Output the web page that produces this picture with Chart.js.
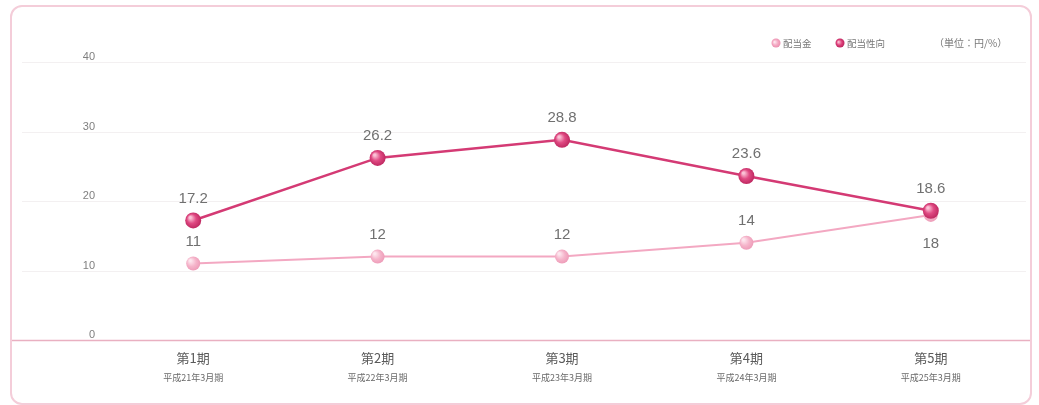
<!DOCTYPE html>
<html lang="ja">
<head>
<meta charset="utf-8">
<title>配当金・配当性向</title>
<script src="https://cdn.jsdelivr.net/npm/chart.js@4/dist/chart.umd.min.js"></script>
<style>
  html,body{margin:0;padding:0;background:#fff;}
  #wrap{position:relative;width:1039px;height:405px;overflow:hidden;}
  #frame{position:absolute;left:10px;top:5px;width:1018px;height:396px;border:2px solid #f4cdd9;border-radius:12px;}
  #chart{position:absolute;left:0;top:0;}
</style>
</head>
<body>
<div id="wrap">
  <div id="frame"></div>
  <canvas id="chart" width="1039" height="405"></canvas>
</div>
<script>
const periods = ["第1期","第2期","第3期","第4期","第5期"];
const fiscalYears = ["平成21年3月期","平成22年3月期","平成23年3月期","平成24年3月期","平成25年3月期"];
const dividend = [11, 12, 12, 14, 18];          // 配当金 (円)
const payoutRatio = [17.2, 26.2, 28.8, 23.6, 18.6]; // 配当性向 (%)
const yTicks = [0, 10, 20, 30, 40];
const seriesNames = ["配当金", "配当性向"];
const unitText = "（単位：円/%）";

const JP = '"Noto Sans CJK JP", "Noto Sans", sans-serif';
const NUM = '"Liberation Sans", "DejaVu Sans", sans-serif';

// glossy ball fill for each point
function ball(light, mid, dark){
  return ctx => {
    const c = ctx.chart, xs = c.scales.x, ys = c.scales.y;
    if(!xs || !ys || ctx.raw == null) return mid;
    const x = xs.getPixelForValue(ctx.dataIndex), y = ys.getPixelForValue(ctx.raw);
    if(!isFinite(x) || !isFinite(y)) return mid;
    const g = c.ctx.createRadialGradient(x-3, y-3, 1, x, y, 9);
    g.addColorStop(0, light);
    g.addColorStop(0.45, mid);
    g.addColorStop(1, dark);
    return g;
  };
}

// grid lines across the whole frame, pink base line at zero
const gridPlugin = {
  id:'fullGrid',
  beforeDatasetsDraw(chart){
    const {ctx, scales:{y}} = chart;
    ctx.save();
    yTicks.forEach(v=>{
      const py = Math.round(y.getPixelForValue(v)) + 0.5;
      ctx.beginPath();
      if(v === 0){
        ctx.strokeStyle = '#e9b0c1';
        ctx.lineWidth = 1.5;
        ctx.moveTo(12, py); ctx.lineTo(1030, py);
      }else{
        ctx.strokeStyle = '#f3f0f1';
        ctx.lineWidth = 1;
        ctx.moveTo(22, py); ctx.lineTo(1026, py);
      }
      ctx.stroke();
    });
    ctx.restore();
  }
};

// value labels, category labels and legend
const textPlugin = {
  id:'texts',
  afterDatasetsDraw(chart){
    const {ctx, scales:{x}} = chart;
    ctx.save();
    ctx.textAlign = 'center';
    ctx.textBaseline = 'middle';
    ctx.fillStyle = '#707070';
    ctx.font = '15px ' + NUM;
    [dividend, payoutRatio].forEach((vals, di)=>{
      chart.getDatasetMeta(di).data.forEach((pt, i)=>{
        const below = di === 0 && vals[i] >= payoutRatio[i] - 1;
        const dy = below ? 29 : -22;
        ctx.fillText(String(vals[i]), pt.x, pt.y + dy);
      });
    });

    periods.forEach((p, i)=>{
      const px = x.getPixelForValue(i);
      ctx.fillStyle = '#5a5a5a';
      ctx.font = '13px ' + JP;
      ctx.fillText(p, px, 358);
      ctx.font = '9px ' + JP;
      ctx.fillStyle = '#6a6a6a';
      ctx.fillText(fiscalYears[i], px, 378);
    });

    // legend
    const items = [
      {x:776, text:seriesNames[0], c:['#fde3ec','#f4a9c3','#e98aab']},
      {x:840, text:seriesNames[1], c:['#f8b7cd','#dd3f7a','#b51f57']}
    ];
    ctx.textAlign = 'left';
    ctx.font = '9.5px ' + JP;
    items.forEach(it=>{
      const g = ctx.createRadialGradient(it.x-1.5, 42, 0.5, it.x, 43, 5);
      g.addColorStop(0, it.c[0]); g.addColorStop(0.5, it.c[1]); g.addColorStop(1, it.c[2]);
      ctx.fillStyle = g;
      ctx.beginPath(); ctx.arc(it.x, 43, 4.5, 0, Math.PI*2); ctx.fill();
      ctx.fillStyle = '#777';
      ctx.fillText(it.text, it.x + 7, 43);
    });
    ctx.font = '10px ' + JP;
    ctx.fillText(unitText, 934, 43);
    ctx.restore();
  }
};

new Chart(document.getElementById('chart'), {
  type:'line',
  data:{
    labels:periods,
    datasets:[
      {
        label:seriesNames[0],
        data:dividend,
        order:1,
        borderColor:'#f3a8c2',
        borderWidth:2,
        pointRadius:7,
        pointBorderWidth:0,
        pointBackgroundColor:ball('#fde6ee','#f5b4ca','#ea91b0'),
        tension:0,
        clip:false
      },
      {
        label:seriesNames[1],
        data:payoutRatio,
        order:0,
        borderColor:'#d43a74',
        borderWidth:2.5,
        pointRadius:8,
        pointBorderWidth:0,
        pointBackgroundColor:ball('#fbc2d6','#e04a83','#b8225a'),
        tension:0,
        clip:false
      }
    ]
  },
  options:{
    responsive:false,
    animation:false,
    layout:{padding:{top:62, right:16, left:0, bottom:0}},
    plugins:{legend:{display:false}, tooltip:{enabled:false}},
    scales:{
      x:{
        offset:true,
        grid:{display:false, drawTicks:false},
        border:{display:false},
        ticks:{display:false},
        afterFit(s){ s.height = 65; }
      },
      y:{
        min:0, max:40,
        grid:{display:false, drawTicks:false},
        border:{display:false},
        afterBuildTicks(s){ s.ticks = yTicks.map(v=>({value:v})); },
        ticks:{
          color:'#808080',
          font:{size:11, family:NUM},
          padding:6,
          labelOffset:-5
        },
        afterFit(s){ s.width = 101; }
      }
    }
  },
  plugins:[gridPlugin, textPlugin]
});
</script>
</body>
</html>
